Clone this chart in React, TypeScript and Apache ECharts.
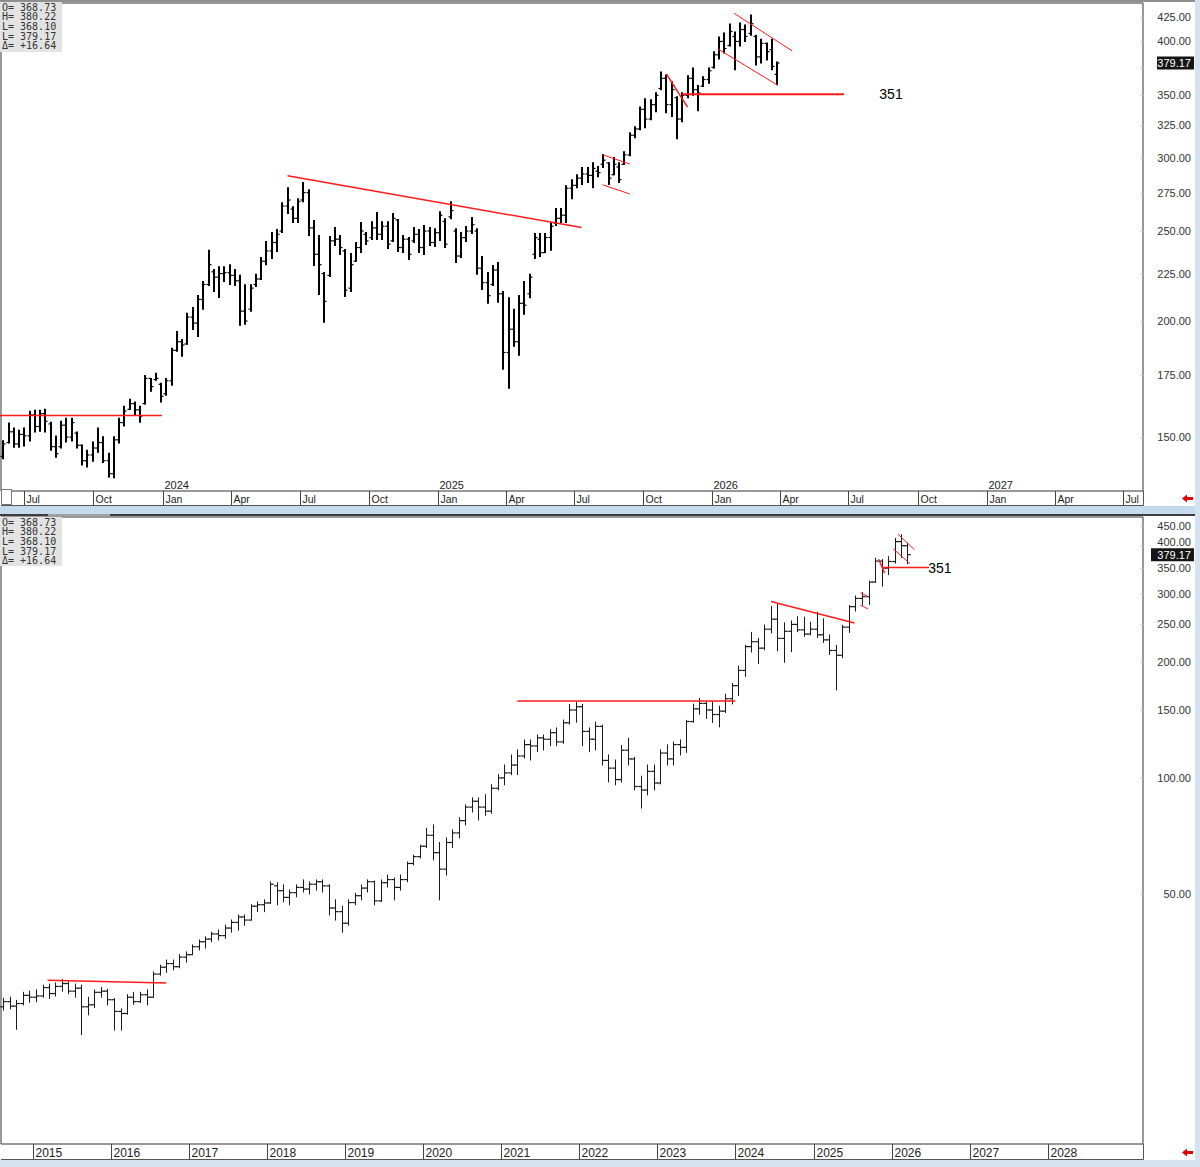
import React, { useEffect, useRef } from "react";
import * as echarts from "echarts";

const DAY = 86400000;

// ---------------- weekly bars (top panel), first bar week of 2023-06-03 ----------------
const topStart = "2023-06-03";
const topOpen = [
  143.0, 148.0, 152.0, 147.5, 151.0, 150.5, 158.5, 154.0, 159.0, 155.0,
  146.5, 146.5, 154.5, 150.0, 151.5, 147.0, 141.5, 143.5, 146.0, 148.0,
  141.5, 137.0, 149.0, 155.5, 160.7, 163.0, 160.5, 163.0, 173.5, 173.0,
  171.0, 167.0, 172.5, 186.0, 190.0, 189.0, 202.0, 199.0, 211.0, 219.0,
  226.0, 223.0, 225.0, 225.5, 224.0, 221.0, 205.0, 206.0, 219.0, 222.0,
  232.0, 238.0, 243.0, 250.0, 266.0, 264.0, 258.0, 270.0, 275.0, 252.0,
  236.0, 225.0, 224.0, 244.0, 245.0, 238.0, 217.0, 232.0, 240.0, 248.0,
  246.0, 252.0, 248.0, 253.0, 244.0, 257.0, 240.0, 245.0, 244.0, 248.0,
  240.0, 250.0, 243.0, 249.0, 256.0, 259.0, 250.0, 235.0, 246.0, 250.0,
  250.0, 228.0, 220.0, 219.0, 227.0, 214.0, 185.0, 196.0, 190.0, 209.0,
  214.0, 236.0, 245.0, 237.0, 246.0, 255.0, 258.0, 260.0, 278.0, 280.0,
  285.0, 288.0, 287.0, 290.0, 295.0, 296.0, 287.5, 293.0, 295.0, 302.0,
  317.0, 322.0, 338.0, 330.0, 342.0, 356.0, 365.0, 342.0, 348.0, 330.0,
  350.0, 365.0, 355.0, 358.0, 364.0, 375.0, 387.0, 400.0, 396.0, 405.0,
  400.0, 412.0, 408.0, 405.0, 385.0, 398.0, 392.0, 368.73,
];
const topHigh = [
  148.7, 155.3, 153.4, 152.6, 153.4, 159.9, 160.3, 160.3, 160.7, 155.6,
  150.4, 156.0, 157.2, 157.2, 151.9, 147.1, 145.2, 148.2, 153.4, 150.1,
  144.1, 150.1, 157.2, 161.9, 164.8, 163.6, 161.9, 174.8, 173.5, 175.7,
  171.4, 173.5, 187.0, 194.9, 191.1, 203.9, 206.9, 213.1, 220.6, 238.4,
  227.3, 228.9, 228.9, 230.0, 227.3, 224.0, 218.9, 218.9, 224.6, 234.1,
  243.6, 249.1, 250.9, 268.2, 278.4, 265.6, 270.9, 281.9, 277.0, 256.6,
  247.3, 225.6, 246.7, 252.2, 247.3, 238.8, 236.4, 243.0, 255.3, 249.1,
  255.9, 261.7, 255.9, 255.9, 261.1, 257.2, 247.3, 246.1, 252.2, 250.9,
  253.4, 252.2, 251.5, 262.3, 257.8, 268.9, 251.5, 249.1, 252.8, 258.5,
  251.5, 234.7, 225.6, 229.5, 231.3, 215.2, 211.9, 205.9, 213.1, 220.6,
  224.6, 248.5, 248.5, 248.5, 255.3, 264.3, 264.3, 279.8, 283.9, 287.5,
  292.6, 292.6, 296.2, 293.3, 302.2, 296.2, 300.0, 296.2, 304.4, 319.0,
  323.7, 340.1, 347.0, 346.1, 352.2, 370.9, 368.1, 361.9, 348.7, 352.2,
  367.3, 374.6, 358.6, 366.4, 374.6, 389.8, 404.4, 408.4, 417.7, 409.5,
  418.7, 416.6, 427.1, 406.3, 402.3, 398.4, 402.3, 380.22,
];
const topLow = [
  142.2, 147.8, 146.3, 146.3, 146.7, 148.6, 151.9, 152.2, 151.9, 145.2,
  142.7, 146.0, 148.2, 148.6, 146.0, 140.0, 139.3, 141.3, 144.5, 140.9,
  135.9, 135.6, 147.8, 154.2, 160.7, 158.4, 155.6, 162.8, 168.1, 172.7,
  163.6, 166.4, 170.6, 185.6, 183.3, 188.8, 195.9, 192.5, 205.9, 218.4,
  215.2, 212.1, 220.6, 219.0, 218.4, 197.9, 198.4, 204.9, 217.9, 221.7,
  230.0, 233.6, 237.6, 249.1, 261.1, 255.3, 255.3, 268.9, 247.3, 229.5,
  213.6, 199.4, 223.4, 241.2, 235.9, 212.5, 215.2, 231.9, 237.0, 241.8,
  244.8, 244.8, 244.8, 239.4, 243.6, 237.6, 237.0, 233.0, 243.0, 237.0,
  235.9, 241.2, 240.6, 244.2, 240.0, 257.8, 231.3, 234.1, 243.6, 248.5,
  224.6, 216.3, 209.0, 218.4, 209.5, 177.5, 169.3, 187.9, 183.8, 203.4,
  211.9, 233.6, 234.7, 237.0, 238.4, 253.4, 255.3, 255.3, 270.9, 278.4,
  280.6, 281.9, 278.4, 286.1, 292.6, 280.6, 287.5, 281.9, 294.8, 301.4,
  315.1, 321.3, 323.0, 329.4, 336.0, 354.8, 335.2, 332.0, 314.3, 327.8,
  347.8, 350.0, 336.8, 357.7, 360.6, 374.6, 382.9, 388.8, 395.6, 372.8,
  395.6, 400.0, 406.3, 377.4, 379.3, 382.1, 372.8, 359.2,
];
const topClose = [
  147.5, 152.0, 147.5, 151.0, 150.5, 158.5, 154.0, 159.0, 156.0, 146.5,
  144.0, 154.5, 150.0, 155.5, 147.0, 141.5, 143.5, 146.0, 148.0, 141.5,
  137.0, 149.0, 155.5, 160.0, 163.0, 160.5, 158.0, 173.5, 170.0, 173.5,
  166.0, 172.5, 186.0, 190.0, 188.5, 202.0, 199.0, 211.0, 219.0, 230.0,
  223.0, 225.0, 225.5, 224.0, 221.0, 205.0, 200.0, 217.0, 222.0, 232.0,
  238.0, 243.0, 248.0, 266.0, 270.0, 258.0, 269.0, 275.0, 252.0, 236.0,
  230.0, 210.0, 244.0, 245.0, 240.0, 216.0, 230.0, 240.0, 250.0, 244.0,
  252.0, 248.0, 253.0, 242.0, 258.0, 240.0, 245.0, 236.0, 248.0, 240.0,
  250.0, 243.0, 249.0, 260.0, 242.0, 263.0, 235.0, 246.0, 250.0, 254.0,
  228.0, 220.0, 213.0, 227.0, 214.0, 185.0, 196.0, 190.0, 209.0, 208.0,
  223.0, 246.0, 237.0, 246.0, 253.0, 258.0, 260.0, 278.0, 280.0, 285.0,
  288.0, 287.0, 292.0, 289.0, 298.0, 285.0, 295.0, 284.0, 302.0, 317.0,
  322.0, 338.0, 330.0, 342.0, 350.0, 365.0, 342.0, 355.0, 330.0, 350.0,
  365.0, 355.0, 352.0, 364.0, 372.0, 387.0, 400.0, 393.0, 410.0, 400.0,
  412.0, 405.0, 418.0, 385.0, 398.0, 390.0, 376.0, 379.17,
];

// ---------------- monthly bars (bottom panel), first bar Aug 2014 ----------------
const botStartYear = 2014;
const botStartMonth = 7; // August (0-based)
const botOpen = [
  25.5, 26.3, 25.6, 26.0, 27.3,
  27.0, 27.2, 28.6, 27.6, 28.8, 29.3, 28.0, 28.5, 25.5, 25.8, 27.8, 28.0,
  26.6, 24.8, 24.5, 27.0, 26.3, 27.4, 27.0, 31.0, 32.3, 33.0, 32.4, 34.3,
  34.8, 36.5, 37.6, 38.2, 39.4, 39.0, 40.8, 42.2, 43.6, 42.8, 46.5, 46.9,
  47.4, 52.5, 51.0, 49.0, 50.4, 52.0, 51.5, 53.0, 53.8, 52.5, 46.0, 45.0,
  42.0, 47.5, 49.5, 51.8, 53.8, 48.0, 53.5, 54.5, 52.0, 54.5, 60.0, 62.5,
  66.5, 71.0, 64.0, 58.0, 68.0, 72.0, 77.5, 84.0, 87.0, 84.0, 82.0, 94.0,
  100.0, 103.0, 108.0, 114.0, 122.0, 121.0, 127.0, 126.0, 131.0, 124.0, 139.0, 150.0,
  153.0, 132.0, 126.0, 136.0, 111.0, 106.0, 99.0, 118.0, 112.0, 95.0, 93.0, 104.0,
  97.0, 116.0, 112.0, 122.0, 120.0, 140.0, 151.0, 156.0, 150.0, 146.0, 149.0, 160.5,
  173.5, 190.0, 219.0, 225.5, 217.0, 243.0, 258.0, 230.0, 240.0, 250.0, 242.0, 236.0,
  243.0, 235.0, 228.0, 214.0, 208.0, 246.0, 278.0, 292.0, 295.0, 322.0, 365.0, 350.0,
  364.0, 410.0, 400.0,
];
const botHigh = [
  26.8, 27.0, 26.5, 27.8, 28.0,
  28.2, 29.0, 29.2, 29.4, 30.0, 29.6, 29.2, 29.0, 27.0, 28.2, 28.6, 28.3,
  26.8, 25.2, 27.4, 27.8, 27.8, 28.2, 31.4, 32.7, 33.7, 33.7, 34.8, 35.4,
  36.9, 38.0, 38.7, 39.8, 40.3, 41.5, 42.8, 44.1, 44.1, 46.9, 47.7, 48.3,
  53.7, 53.5, 52.8, 51.2, 52.8, 54.4, 53.7, 54.4, 54.4, 52.8, 48.3, 46.5,
  48.3, 50.2, 52.8, 54.4, 54.0, 54.4, 56.0, 55.0, 56.0, 60.5, 63.0, 66.9,
  74.0, 75.5, 68.0, 69.9, 73.3, 78.8, 85.1, 88.8, 88.8, 90.4, 96.0, 102.0,
  108.0, 114.7, 118.2, 125.4, 125.4, 129.2, 129.2, 133.2, 134.8, 141.3, 155.0, 157.0,
  155.0, 134.8, 139.5, 137.0, 114.7, 111.3, 121.3, 126.7, 113.0, 101.0, 108.0, 108.0,
  118.2, 121.8, 123.9, 125.4, 141.0, 155.3, 160.7, 157.2, 157.2, 153.4, 164.8, 175.7,
  194.9, 220.6, 238.4, 230.0, 249.1, 278.4, 281.9, 252.2, 255.3, 261.7, 261.1, 253.4,
  268.9, 258.5, 234.7, 220.6, 248.5, 279.8, 296.2, 302.2, 323.7, 370.9, 368.1, 374.6,
  417.7, 427.1, 406.3,
];
const botLow = [
  25.0, 25.2, 22.3, 25.8, 26.2,
  26.3, 27.0, 26.8, 27.2, 28.0, 27.6, 27.0, 21.6, 24.3, 25.4, 27.0, 25.8,
  22.2, 22.2, 24.4, 25.9, 26.2, 25.8, 27.0, 30.8, 31.3, 31.8, 32.2, 33.3,
  34.8, 35.8, 36.2, 37.6, 38.0, 38.4, 39.8, 40.3, 41.5, 42.8, 45.0, 45.0,
  47.2, 46.9, 47.7, 46.9, 49.2, 50.6, 50.0, 51.2, 50.6, 44.1, 42.8, 39.8,
  41.5, 46.9, 48.3, 50.6, 46.9, 47.8, 52.2, 48.3, 51.2, 53.8, 59.5, 62.0,
  66.0, 61.3, 48.3, 56.0, 66.0, 69.9, 75.5, 81.6, 77.8, 80.0, 81.0, 93.1,
  96.0, 102.0, 102.0, 112.6, 111.3, 117.0, 118.2, 121.3, 121.3, 123.0, 138.0, 139.5,
  121.3, 117.0, 118.2, 108.0, 97.6, 96.0, 97.6, 108.0, 93.1, 83.5, 90.4, 93.1,
  96.5, 108.0, 108.0, 114.7, 116.5, 139.5, 146.3, 142.7, 139.3, 135.6, 147.8, 155.6,
  163.6, 183.3, 212.1, 197.9, 215.0, 237.6, 213.6, 199.4, 212.5, 239.4, 233.0, 235.0,
  231.3, 224.6, 209.0, 169.3, 205.0, 238.4, 270.9, 280.6, 281.9, 321.3, 314.3, 336.8,
  360.6, 372.8, 359.2,
];
const botClose = [
  26.3, 25.6, 26.0, 27.3, 27.0,
  27.2, 28.6, 27.6, 28.8, 29.3, 28.0, 28.5, 25.5, 25.8, 27.8, 28.0, 26.6,
  24.8, 24.5, 27.0, 26.3, 27.4, 27.0, 31.0, 32.3, 33.0, 32.4, 34.3, 34.8,
  36.5, 37.6, 38.2, 39.4, 39.0, 40.8, 42.2, 43.6, 42.8, 46.5, 46.9, 47.4,
  53.0, 51.0, 49.0, 50.4, 52.0, 51.5, 53.0, 53.8, 52.5, 46.0, 45.0, 42.0,
  47.5, 49.5, 51.8, 53.8, 48.0, 53.5, 54.5, 52.0, 54.5, 60.0, 62.5, 66.5,
  71.0, 64.0, 58.0, 68.0, 72.0, 77.5, 84.0, 87.0, 84.0, 82.0, 94.0, 100.0,
  103.0, 108.0, 114.0, 122.0, 121.0, 127.0, 126.0, 131.0, 124.0, 139.0, 150.0, 153.0,
  132.0, 126.0, 136.0, 111.0, 106.0, 99.0, 118.0, 112.0, 95.0, 93.0, 104.0, 97.0,
  116.0, 112.0, 122.0, 120.0, 140.0, 151.0, 156.0, 150.0, 146.0, 149.0, 160.5, 173.5,
  190.0, 219.0, 225.5, 217.0, 243.0, 258.0, 230.0, 240.0, 250.0, 242.0, 236.0, 243.0,
  235.0, 228.0, 214.0, 208.0, 246.0, 278.0, 292.0, 295.0, 322.0, 365.0, 350.0, 364.0,
  410.0, 400.0, 379.17,
];

// ---------------- red trend lines (shared by both panels) ----------------
const trendStart: [string, number][] = [
  ["2015-03-10", 29.9],
  ["2021-03-16", 158.3],
  ["2024-06-15", 286.8],
  ["2025-08-08", 302.1],
  ["2025-08-08", 280.4],
  ["2025-11-01", 368.8],
  ["2025-11-22", 351],
  ["2026-01-30", 428.9],
  ["2026-01-09", 392.4],
];
const trendEnd: [string, number][] = [
  ["2016-09-15", 29.4],
  ["2023-12-31", 158.3],
  ["2025-07-11", 252.2],
  ["2025-09-13", 295.2],
  ["2025-09-13", 274.1],
  ["2025-11-29", 339.9],
  ["2026-06-25", 351],
  ["2026-04-17", 390.8],
  ["2026-03-28", 359.2],
];
const trendWidth = [1.5, 1.5, 1.5, 1, 1, 1.5, 2, 1, 1];

const levelText = "351";
const levelValue = 351;
const levelLabelTop = "2026-08-11";
const levelLabelBottom = "2026-06-21";

// ---------------- ticks & texts ----------------
const topPriceTicks = [150, 175, 200, 225, 250, 275, 300, 325, 350, 375, 400, 425];
const botPriceTicks = [50, 100, 150, 200, 250, 300, 350, 400, 450];
const topMonthTicks = [
  "2023-07-01", "2023-10-01", "2024-01-01", "2024-04-01", "2024-07-01", "2024-10-01",
  "2025-01-01", "2025-04-01", "2025-07-01", "2025-10-01", "2026-01-01", "2026-04-01",
  "2026-07-01", "2026-10-01", "2027-01-01", "2027-04-01", "2027-07-01",
];
const monthNames = ["Jan", "Feb", "Mar", "Apr", "May", "Jun", "Jul", "Aug", "Sep", "Oct", "Nov", "Dec"];
const topYearTicks = ["2024", "2025", "2026", "2027"];
const botYearTicks = [
  "2015", "2016", "2017", "2018", "2019", "2020", "2021",
  "2022", "2023", "2024", "2025", "2026", "2027", "2028",
];
const infoLines = ["O= 368.73", "H= 380.22", "L= 368.10", "L= 379.17", "\u0394= +16.64"];
const lastClose = 379.17;

// axis extents
const topXRange = ["2023-05-31", "2027-07-27T16:00:00Z"];
const botXRange = ["2014-08-04", "2029-03-22"];
const topYRange = [131.25, 440];
const botYRange = [11.24, 474.8];

const t = (s: string) => Date.parse(s);

function ohlcRender(w: number, tick: number, color: string) {
  return (params: any, api: any) => {
    const x0 = api.value(0);
    const o = api.coord([x0, api.value(1)]);
    const h = api.coord([x0, api.value(2)]);
    const l = api.coord([x0, api.value(3)]);
    const c = api.coord([x0, api.value(4)]);
    const x = Math.round(h[0]) + (w % 2 === 1 ? 0.5 : 0);
    return {
      type: "group",
      children: [
        { type: "line", shape: { x1: x, y1: h[1] - 0.5, x2: x, y2: l[1] + 0.5 }, style: { stroke: color, lineWidth: w } },
        { type: "line", shape: { x1: x - tick, y1: o[1], x2: x, y2: o[1] }, style: { stroke: color, lineWidth: 1.2 } },
        { type: "line", shape: { x1: x, y1: c[1], x2: x + tick, y2: c[1] }, style: { stroke: color, lineWidth: 1.2 } },
      ],
    };
  };
}

export default function App() {
  const ref = useRef<HTMLDivElement>(null);

  useEffect(() => {
    document.body.style.margin = "0";
    const chart = echarts.init(ref.current!, null, { renderer: "svg", width: 1200, height: 1167 });

    const topData = topOpen.map((o, i) => [t(topStart) + i * 7 * DAY, o, topHigh[i], topLow[i], topClose[i]]);
    const botData = botOpen.map((o, i) => {
      const m = botStartMonth + i;
      const d = Date.UTC(botStartYear + Math.floor(m / 12), m % 12, 15);
      return [d, o, botHigh[i], botLow[i], botClose[i]];
    });

    const trendSeries: any[] = [];
    [0, 1].forEach((gi) => {
      trendStart.forEach((s, k) => {
        trendSeries.push({
          type: "line",
          xAxisIndex: gi,
          yAxisIndex: gi,
          data: [[t(s[0]), s[1]], [t(trendEnd[k][0]), trendEnd[k][1]]],
          symbol: "none",
          silent: true,
          clip: true,
          z: 5,
          lineStyle: { color: "#ff1a1a", width: gi === 1 ? Math.min(trendWidth[k], 1.5) : trendWidth[k] },
        });
      });
    });

    const hiddenAxis = { axisLine: { show: false }, axisTick: { show: false }, axisLabel: { show: false }, splitLine: { show: false } };

    chart.setOption({
      animation: false,
      backgroundColor: "#ffffff",
      grid: [
        { left: 1, top: 3, width: 1142, height: 488, show: true, borderColor: "#333", borderWidth: 1, backgroundColor: "transparent" },
        { left: 1, top: 517, width: 1142, height: 627, show: true, borderColor: "#333", borderWidth: 1, backgroundColor: "transparent" },
      ],
      xAxis: [
        { type: "time", gridIndex: 0, min: t(topXRange[0]), max: t(topXRange[1]), ...hiddenAxis },
        { type: "time", gridIndex: 1, min: t(botXRange[0]), max: t(botXRange[1]), ...hiddenAxis },
      ],
      yAxis: [
        { type: "log", gridIndex: 0, min: topYRange[0], max: topYRange[1], position: "right", ...hiddenAxis },
        { type: "log", gridIndex: 1, min: botYRange[0], max: botYRange[1], position: "right", ...hiddenAxis },
      ],
      series: [
        {
          type: "custom",
          xAxisIndex: 0,
          yAxisIndex: 0,
          data: topData,
          encode: { x: 0, y: [1, 2, 3, 4] },
          renderItem: ohlcRender(2, 2.5, "#000"),
          silent: true,
          z: 3,
        },
        {
          type: "custom",
          xAxisIndex: 1,
          yAxisIndex: 1,
          data: botData,
          encode: { x: 0, y: [1, 2, 3, 4] },
          renderItem: ohlcRender(1, 3.3, "#1a1a1a"),
          silent: true,
          z: 3,
        },
        ...trendSeries,
      ],
    });

    const X = (i: number, v: number) => chart.convertToPixel({ xAxisIndex: i } as any, v) as unknown as number;
    const Y = (i: number, v: number) => chart.convertToPixel({ yAxisIndex: i } as any, v) as unknown as number;

    const els: any[] = [];
    const rect = (x: number, y: number, w: number, h: number, fill: string, stroke?: string) =>
      els.push({ type: "rect", shape: { x, y, width: w, height: h }, style: { fill, stroke: stroke || null, lineWidth: stroke ? 1 : 0 }, z: 20, silent: true });
    const line = (x1: number, y1: number, x2: number, y2: number, stroke: string, w = 1) =>
      els.push({ type: "line", shape: { x1, y1, x2, y2 }, style: { stroke, lineWidth: w }, z: 21, silent: true });
    const text = (x: number, y: number, s: string, font: string, fill: string, align = "left") =>
      els.push({
        type: "text",
        x,
        y,
        z: 22,
        silent: true,
        style: { text: s, font, fill, align, verticalAlign: "middle", textAlign: align, textVerticalAlign: "middle" },
      });

    // window frame pieces
    rect(0, 0, 1200, 2, "#8e8e8e");
    rect(1195, 0, 5, 1167, "#d5e3f1");
    rect(0, 506, 1195, 8, "#c6daee");
    rect(0, 514, 1195, 2, "#3d3d3d");
    rect(48, 514, 62, 2, "#a0a0a0");
    rect(0, 1160, 1200, 7, "#d5e3f1");

    // top time strip
    line(1, 505.5, 1143.5, 505.5, "#555");
    line(1143.5, 491, 1143.5, 505.5, "#555");
    topMonthTicks.forEach((d) => {
      const x = Math.round(X(0, t(d))) + 0.5;
      line(x, 491, x, 505, "#444");
      text(x + 2, 499, monthNames[new Date(t(d)).getUTCMonth()], "10.5px 'Liberation Sans'", "#222");
    });
    topYearTicks.forEach((yv) => {
      const x = Math.round(X(0, t(yv + "-01-01"))) + 0.5;
      text(x + 1, 485, yv, "11px 'Liberation Sans'", "#222");
    });
    rect(1.5, 489.5, 10, 15, "#ffffff", "#777");
    els.push({
      type: "polygon",
      z: 22,
      shape: { points: [[1182, 498.5], [1187, 494.5], [1187, 497], [1193, 497], [1193, 500], [1187, 500], [1187, 502.5]] },
      style: { fill: "#e00000" },
    });

    // bottom time strip
    line(1, 1159.5, 1143.5, 1159.5, "#555");
    line(1143.5, 1144, 1143.5, 1159.5, "#555");
    botYearTicks.forEach((yv) => {
      const x = Math.round(X(1, t(yv + "-01-01"))) + 0.5;
      line(x, 1144, x, 1159, "#444");
      text(x + 2, 1152.5, yv, "12px 'Liberation Sans'", "#222");
    });
    els.push({
      type: "polygon",
      z: 22,
      shape: { points: [[1182, 1152.5], [1187, 1148.5], [1187, 1151], [1193, 1151], [1193, 1154], [1187, 1154], [1187, 1156.5]] },
      style: { fill: "#e00000" },
    });

    // price scales (labels hidden under the last-price box are left out, close ones nudged)
    const priceLabels = (gi: number, ticks: number[], boxY: number) => {
      ticks.forEach((v) => {
        let y = Y(gi, v);
        line(1140, Math.round(y) + 0.5, 1143, Math.round(y) + 0.5, "#cfcfcf");
        const d = y - boxY;
        if (Math.abs(d) < 8) return;
        if (Math.abs(d) < 13) y = boxY + Math.sign(d) * 13;
        text(1191, y, v.toFixed(2), "11px 'Liberation Sans'", "#333", "right");
      });
    };
    const yl0 = Y(0, lastClose);
    const yl1 = Y(1, lastClose);
    priceLabels(0, topPriceTicks, yl0);
    priceLabels(1, botPriceTicks, yl1);
    rect(1157, yl0 - 6.5, 37, 13, "#151515");
    text(1191, yl0, lastClose.toFixed(2), "11px 'Liberation Sans'", "#ffffff", "right");
    rect(1151, yl1 - 6.5, 43, 13, "#151515");
    text(1191, yl1, lastClose.toFixed(2), "11px 'Liberation Sans'", "#ffffff", "right");

    // info boxes
    rect(0, 2, 62, 50, "#e3e3e3");
    infoLines.forEach((s, i) => text(2, 7 + i * 9.7, s, "10px 'DejaVu Sans Mono'", "#333"));
    rect(0, 517, 62, 49, "#e3e3e3");
    infoLines.forEach((s, i) => text(2, 522 + i * 9.7, s, "10px 'DejaVu Sans Mono'", "#333"));

    // level labels
    text(X(0, t(levelLabelTop)), Y(0, levelValue), levelText, "14px 'Liberation Sans'", "#000");
    text(X(1, t(levelLabelBottom)), Y(1, levelValue), levelText, "14px 'Liberation Sans'", "#000");

    chart.setOption({ graphic: { elements: els } });

    return () => chart.dispose();
  }, []);

  return <div ref={ref} style={{ width: 1200, height: 1167, background: "#fff" }} />;
}
